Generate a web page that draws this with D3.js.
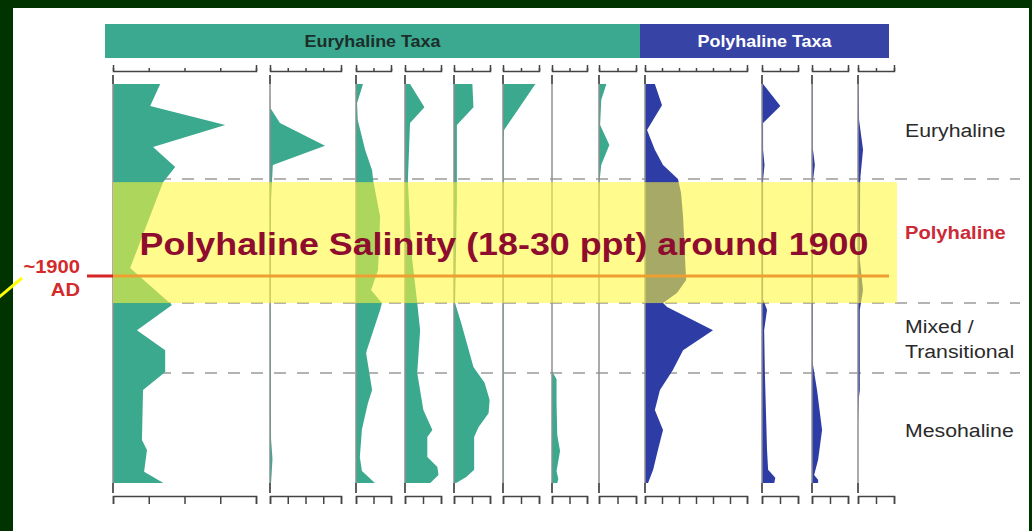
<!DOCTYPE html>
<html>
<head>
<meta charset="utf-8">
<script src="https://cdn.jsdelivr.net/npm/d3@7/dist/d3.min.js"></script>
<style>
  body { margin: 0; background: #013301; }
  svg { display: block; }
</style>
</head>
<body>
<svg id="chart" width="1032" height="531"></svg>
<script>
// ---- data (depth 0 = top of core, 100 = bottom; values = % abundance) ----
const groupNames = ["Euryhaline Taxa", "Polyhaline Taxa"];
const zoneNames = [["Euryhaline"], ["Polyhaline"], ["Mixed /", "Transitional"], ["Mesohaline"]];
const zoneBreaks = [23.8, 54.9, 72.4];
const bandDepths = [24.6, 54.9];
const horizonDepth = 48.1;
const horizonLabel = ["~1900", "AD"];
const bandTitle = "Polyhaline Salinity (18-30 ppt) around 1900";

const taxonMax = [40, 20, 10, 10, 10, 10, 10, 10, 30, 10, 10, 10];
const taxonGroup = [0, 0, 0, 0, 0, 0, 0, 0, 1, 1, 1, 1];
const taxonTickStep = [10, 5, 5, 5, 5, 5, 5, 5, 5, 5, 5, 5];

const eury1 = [[0,13.2],[5.5,10.4],[10.3,31.4],[15.8,11.2],[20.8,17.4],[24.6,14.0],[46.1,4.8],[55.4,16.5],[61.7,6.7],[66.7,14.6],[72.2,14.6],[76.7,8.4],[89.2,8.1],[91.7,9.5],[97.2,8.7],[100,14.1]];
const eury2 = [[0,0],[6,0.1],[9.8,2.8],[15.5,15.5],[20.3,0.8],[29,0.3],[54,0.2],[89,0.3],[94,0.7],[100,0.3]];
const eury3 = [[0,2.0],[4.8,0.3],[9,0.5],[16.5,2.6],[21.6,4.6],[24.1,4.9],[33.3,6.9],[46.6,6.3],[51.6,4.3],[54.9,7.4],[56.6,6.9],[66.7,3.1],[67.5,2.9],[76.7,4.6],[80,3.4],[86.5,1.7],[93.5,1.1],[97,1.7],[100,5.4]];
const eury4 = [[0,1.4],[5.8,5.4],[9.8,1.4],[24.1,0.8],[41.6,1.7],[54.9,3.4],[61.7,4.2],[72.4,3.4],[81.7,5.1],[86.7,7.6],[88.5,6.2],[93.5,6.2],[96,9.0],[98,9.3],[100,7.0]];
const eury5 = [[0,5.1],[5.8,5.4],[10.3,0.8],[29.1,0.8],[54.9,0.3],[59.9,2.0],[70.9,5.4],[74.9,8.5],[79.2,9.9],[82.5,9.6],[86,6.8],[88.5,5.6],[96.7,5.6],[98.5,3.4],[100,0.6]];
const eury6 = [[0,9.0],[11.5,0.3],[14,0.2],[100,0.2]];
const eury7 = [[0,0],[72,0],[74,1.3],[80,1.3],[88,1.5],[92,2.3],[97,1.3],[99,1.8],[100,1.5]];
const eury8 = [[0,2.0],[4,0.6],[10.3,0.3],[15.3,2.8],[20.3,0.6],[24,0.2],[30,0],[100,0]];
const poly1 = [[0,2.9],[5.3,5.0],[11.5,0.6],[16.5,2.9],[20.3,5.3],[23.8,9.7],[27.3,10.6],[33.3,11.2],[44.1,11.8],[49.1,12.1],[52.4,9.4],[54.9,5.3],[55.9,6.5],[61.7,20.0],[66.7,11.2],[71.7,8.2],[76.7,4.4],[81.7,2.9],[86.7,5.3],[91.7,3.8],[96.7,2.4],[100,0.9]];
const poly2 = [[0,0.3],[5.5,5.1],[9.8,0.3],[16.5,0.3],[20.3,0.7],[24,0.3],[54,0.3],[56.6,1.4],[61.7,0.6],[72.4,0.8],[91.7,1.4],[96.7,1.7],[98.7,3.7],[100,3.4]];
const poly3 = [[0,0.2],[16,0.2],[20.3,0.8],[24,0.3],[70,0.2],[76.7,1.4],[86.7,2.8],[94.2,1.7],[98,0.6],[99.2,1.7],[100,1.7]];
const poly4 = [[0,0.2],[9,0.3],[16.5,1.4],[24,0.6],[44,0.5],[51.6,1.4],[56.6,0.5],[76.7,0.5],[79,0.2],[85,0],[100,0]];

const profiles = [eury1, eury2, eury3, eury4, eury5, eury6, eury7, eury8, poly1, poly2, poly3, poly4];

// ---- layout ----
const panelLeft = [113, 270, 356, 405, 454, 503, 552, 599, 645, 762, 812, 858];
const panelWidth = [143, 71, 35, 36, 36, 36, 35, 37, 102, 36, 36, 36];
const groupColors = ["#3aa98e", "#2e3da6"];
const barColors = ["#3aa98f", "#3744a6"];
const barTextColors = ["#1c2e2a", "#ffffff"];
const stretch = 1.12; // the slide is a bit wider than tall

const svg = d3.select("#chart");

svg.append("rect").attr("x", 13).attr("y", 8).attr("width", 1016).attr("height", 530).attr("fill", "#ffffff");

const y = d3.scaleLinear().domain([0, 100]).range([84, 483]);

const xScales = profiles.map((p, i) =>
    d3.scaleLinear().domain([0, taxonMax[i]]).range([panelLeft[i], panelLeft[i] + panelWidth[i]]));

function label(g, x, yy, str, size, weight, color, anchor) {
    return g.append("text")
        .attr("transform", `translate(${x},${yy}) scale(${stretch},1)`)
        .attr("text-anchor", anchor || "start")
        .style("font-family", "'Liberation Sans', Arial, sans-serif")
        .style("font-size", size + "px")
        .style("font-weight", weight)
        .style("fill", color)
        .text(str);
}

// header bars
const groupExtent = [[105, 640], [640, 889]];
groupNames.forEach((name, i) => {
    const [a, b] = groupExtent[i];
    svg.append("rect").attr("x", a).attr("y", 24).attr("width", b - a).attr("height", 34).attr("fill", barColors[i]);
    label(svg, (a + b) / 2, 47, name, 16, "bold", barTextColors[i], "middle");
});

// zone dashed lines
svg.selectAll("line.zone")
    .data(zoneBreaks)
    .enter().append("line")
    .attr("class", "zone")
    .attr("x1", 113).attr("x2", 1020)
    .attr("y1", d => y(d)).attr("y2", d => y(d))
    .attr("stroke", "#9a9a9a").attr("stroke-width", 1.5)
    .attr("stroke-dasharray", "12,11");

// filled profiles
const area = (i) => d3.area()
    .y(d => y(d[0]))
    .x0(xScales[i](0))
    .x1(d => xScales[i](d[1]));

svg.selectAll("path.profile")
    .data(profiles)
    .enter().append("path")
    .attr("class", "profile")
    .attr("d", (d, i) => area(i)(d))
    .attr("fill", (d, i) => groupColors[taxonGroup[i]]);

// zero lines and axes
profiles.forEach((p, i) => {
    const x0 = xScales[i](0);
    svg.append("line").attr("x1", x0).attr("x2", x0).attr("y1", 75).attr("y2", 493)
        .attr("stroke", "#8f8f8f").attr("stroke-width", 1.5);
    [[75, 84], [483, 493]].forEach(([a, b]) => {
        svg.append("line").attr("x1", x0).attr("x2", x0).attr("y1", a).attr("y2", b)
            .attr("stroke", "#444").attr("stroke-width", 1.5);
    });

    const ticks = d3.range(0, taxonMax[i] + 0.001, taxonTickStep[i]);
    const top = svg.append("g").attr("transform", "translate(0,71)")
        .call(d3.axisTop(xScales[i]).tickValues(ticks).tickSizeInner(3).tickSizeOuter(6).tickFormat(""));
    const bottom = svg.append("g").attr("transform", "translate(0,496)")
        .call(d3.axisBottom(xScales[i]).tickValues(ticks).tickSizeInner(8).tickSizeOuter(8).tickFormat(""));
    [top, bottom].forEach(ax => {
        ax.selectAll("path, line").attr("stroke", "#444").attr("stroke-width", 1.5);
        ax.selectAll("text").remove();
    });
});

// ~1900 AD horizon
svg.append("line")
    .attr("x1", 87).attr("x2", 889)
    .attr("y1", y(horizonDepth)).attr("y2", y(horizonDepth))
    .attr("stroke", "#d42424").attr("stroke-width", 3);

// yellow polyhaline band (drawn over, semi-transparent)
svg.append("rect")
    .attr("x", 113).attr("width", 897 - 113)
    .attr("y", y(bandDepths[0])).attr("height", y(bandDepths[1]) - y(bandDepths[0]))
    .attr("fill", "#fff838").attr("opacity", 0.58);

label(svg, 504, 255, bandTitle, 32, "bold", "#8e0c2e", "middle");

// left labels and pointer
label(svg, 80, 273, horizonLabel[0], 18, "bold", "#d42a2a", "end");
label(svg, 80, 296, horizonLabel[1], 18, "bold", "#d42a2a", "end");
svg.append("line").attr("x1", -2).attr("y1", 298).attr("x2", 22).attr("y2", 278)
    .attr("stroke", "#ffff00").attr("stroke-width", 3);

// zone labels
const zoneLabelY = [[137], [239], [333, 358], [437]];
zoneNames.forEach((lines, i) => {
    lines.forEach((txt, j) => {
        label(svg, 905, zoneLabelY[i][j], txt, i === 1 ? 18 : 19,
            i === 1 ? "bold" : "normal", i === 1 ? "#cc2a36" : "#2a2a2a", "start");
    });
});
</script>
</body>
</html>
